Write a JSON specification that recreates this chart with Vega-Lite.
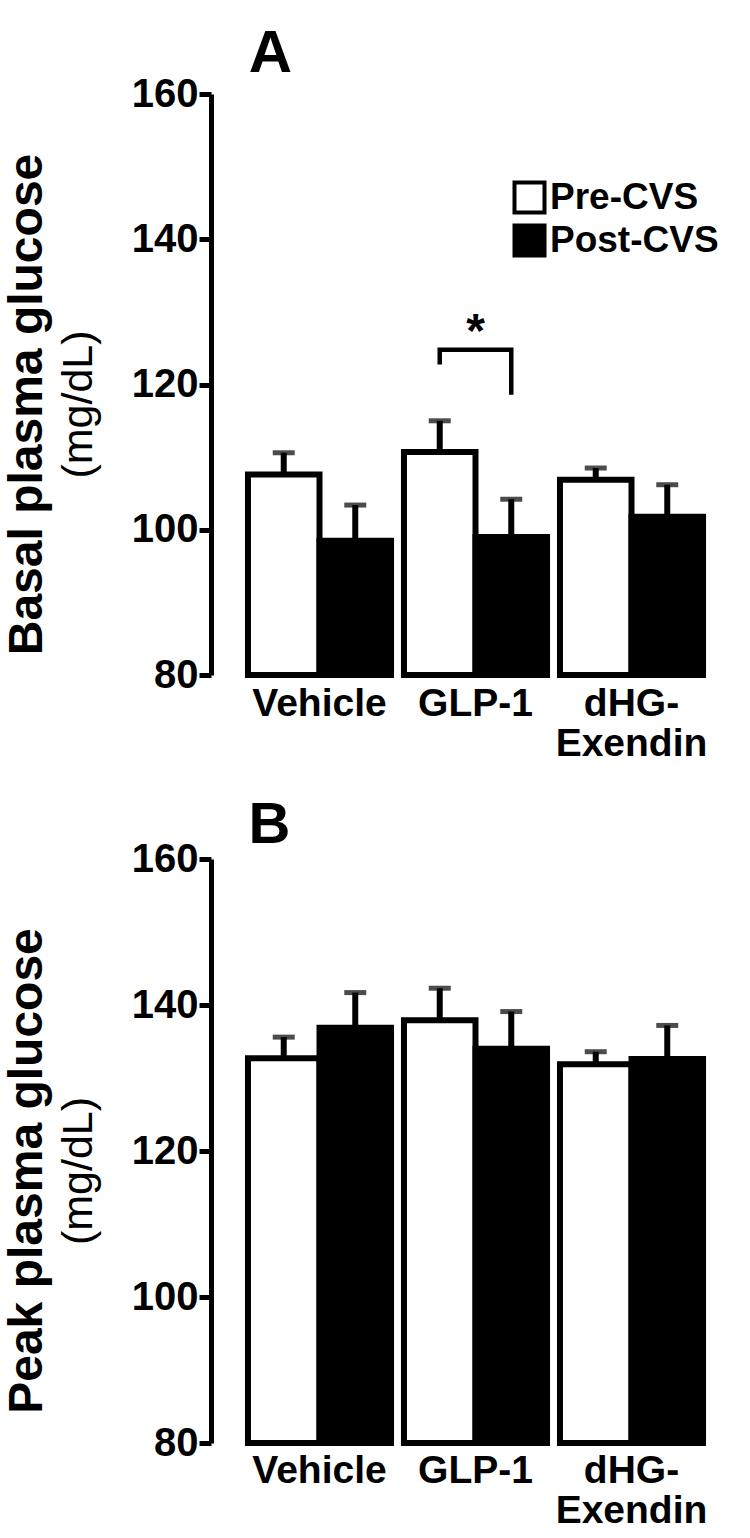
{
  "$schema": "https://vega.github.io/schema/vega-lite/v6.json",
  "background": "white",
  "padding": {"left": 4, "top": 23, "right": 0, "bottom": 0},
  "config": {
    "view": {"stroke": null},
    "font": "Liberation Sans",
    "axis": {"labelColor": "black", "titleColor": "black", "domainColor": "black", "tickColor": "black"}
  },
  "spacing": 33,
  "resolve": {"scale": {"fill": "independent", "y": "independent", "x": "independent"}, "legend": {"fill": "independent"}},
  "vconcat": [
    {
      "width": 529,
      "height": 581,
      "title": {"text": "Basal plasma glucose", "subtitle": "(mg/dL)", "orient": "left", "anchor": "middle", "frame": "group", "dx": -20, "font": "Liberation Sans", "fontSize": 48, "fontWeight": "bold", "color": "black", "subtitleFont": "Liberation Sans", "subtitleFontSize": 43, "subtitleColor": "black", "subtitleFontWeight": "normal", "subtitlePadding": 6, "offset": 30},
      "data": {"values": [
        {"group": "Vehicle", "phase": "Pre-CVS", "value": 107.6, "upper": 110.6},
        {"group": "Vehicle", "phase": "Post-CVS", "value": 98.5, "upper": 103.4},
        {"group": "GLP-1", "phase": "Pre-CVS", "value": 110.7, "upper": 115.0},
        {"group": "GLP-1", "phase": "Post-CVS", "value": 99.0, "upper": 104.2},
        {"group": "dHG-Exendin", "phase": "Pre-CVS", "value": 106.9, "upper": 108.5},
        {"group": "dHG-Exendin", "phase": "Post-CVS", "value": 101.8, "upper": 106.2}
      ]},
      "encoding": {
        "x": {"field": "group", "type": "nominal", "sort": ["Vehicle", "GLP-1", "dHG-Exendin"], "scale": {"paddingInner": 0.083, "paddingOuter": 0.237},
          "axis": {"title": null, "domain": false, "ticks": false, "labelFontSize": 39, "labelFontWeight": "bold", "labelFont": "Liberation Sans", "labelPadding": 9, "labelAngle": 0, "labelBaseline": "top", "labelLineHeight": 40, "labelExpr": "datum.value == 'dHG-Exendin' ? ['dHG-', 'Exendin'] : datum.value"}},
        "y": {"field": "value", "type": "quantitative", "title": "A", "scale": {"domain": [80, 160], "zero": false, "nice": false},
          "axis": {"values": [80, 100, 120, 140, 160], "grid": false, "domainWidth": 5, "tickWidth": 5, "tickSize": 12, "labelFontSize": 40, "labelFontWeight": "bold", "labelPadding": 1, "titleAngle": 0, "titleX": 59, "titleY": -23, "titleAlign": "center", "titleBaseline": "alphabetic", "titleFontSize": 60, "titleFontWeight": "bold", "titleFont": "Liberation Sans"}}
      },
      "layer": [
        {
          "mark": {"type": "bar", "stroke": "black", "strokeWidth": 6, "strokeJoin": "miter"},
          "encoding": {
            "xOffset": {"field": "phase", "type": "nominal", "sort": ["Pre-CVS", "Post-CVS"], "scale": {"paddingInner": 0, "paddingOuter": 0}},
            "y2": {"datum": 80},
            "fill": {"field": "phase", "type": "nominal", "scale": {"domain": ["Pre-CVS", "Post-CVS"], "range": ["white", "black"]},
              "legend": {"title": null, "orient": "none", "legendX": 300, "legendY": 85, "symbolType": "square", "symbolSize": 900, "symbolStrokeWidth": 4, "symbolStrokeColor": "black", "labelFont": "Liberation Sans", "labelFontSize": 37, "labelFontWeight": "bold", "labelColor": "black", "labelLimit": 400, "rowPadding": -4, "labelOffset": 2, "padding": 0}}
          }
        },
        {
          "mark": {"type": "rule", "strokeWidth": 6, "color": "black"},
          "encoding": {
            "xOffset": {"field": "phase", "type": "nominal", "sort": ["Pre-CVS", "Post-CVS"], "scale": {"paddingInner": 0, "paddingOuter": 0}},
            "y2": {"field": "upper"}
          }
        },
        {
          "mark": {"type": "tick", "thickness": 5, "size": 22, "color": "black"},
          "encoding": {
            "xOffset": {"field": "phase", "type": "nominal", "sort": ["Pre-CVS", "Post-CVS"], "scale": {"paddingInner": 0, "paddingOuter": 0}},
            "y": {"field": "upper", "type": "quantitative", "title": "A"}
          }
        },
        {
          "data": {"values": [
            {"group": "GLP-1", "phase": "Pre-CVS", "value": 122.75, "ord": 1},
            {"group": "GLP-1", "phase": "Pre-CVS", "value": 124.8, "ord": 2},
            {"group": "GLP-1", "phase": "Post-CVS", "value": 124.8, "ord": 3},
            {"group": "GLP-1", "phase": "Post-CVS", "value": 118.6, "ord": 4}
          ]},
          "mark": {"type": "line", "color": "black", "strokeWidth": 4.5, "strokeCap": "butt", "strokeJoin": "miter"},
          "encoding": {
            "xOffset": {"field": "phase", "type": "nominal", "sort": ["Pre-CVS", "Post-CVS"], "scale": {"paddingInner": 0, "paddingOuter": 0}},
            "order": {"field": "ord", "type": "quantitative"}
          }
        },
        {
          "data": {"values": [{"group": "GLP-1", "value": 125.2, "label": "*"}]},
          "mark": {"type": "text", "fontSize": 48, "fontWeight": "bold", "baseline": "alphabetic", "align": "center", "color": "black"},
          "encoding": {"text": {"field": "label"}}
        }
      ]
    },
    {
      "width": 529,
      "height": 584,
      "title": {"text": "Peak plasma glucose", "subtitle": "(mg/dL)", "orient": "left", "anchor": "middle", "frame": "group", "dx": -20, "font": "Liberation Sans", "fontSize": 48, "fontWeight": "bold", "color": "black", "subtitleFont": "Liberation Sans", "subtitleFontSize": 43, "subtitleColor": "black", "subtitleFontWeight": "normal", "subtitlePadding": 6, "offset": 30},
      "data": {"values": [
        {"group": "Vehicle", "phase": "Pre-CVS", "value": 132.7, "upper": 135.6},
        {"group": "Vehicle", "phase": "Post-CVS", "value": 136.9, "upper": 141.7},
        {"group": "GLP-1", "phase": "Pre-CVS", "value": 137.9, "upper": 142.3},
        {"group": "GLP-1", "phase": "Post-CVS", "value": 134.0, "upper": 139.1},
        {"group": "dHG-Exendin", "phase": "Pre-CVS", "value": 131.9, "upper": 133.6},
        {"group": "dHG-Exendin", "phase": "Post-CVS", "value": 132.6, "upper": 137.2}
      ]},
      "encoding": {
        "x": {"field": "group", "type": "nominal", "sort": ["Vehicle", "GLP-1", "dHG-Exendin"], "scale": {"paddingInner": 0.083, "paddingOuter": 0.237},
          "axis": {"title": null, "domain": false, "ticks": false, "labelFontSize": 39, "labelFontWeight": "bold", "labelFont": "Liberation Sans", "labelPadding": 8, "labelAngle": 0, "labelBaseline": "top", "labelLineHeight": 40, "labelExpr": "datum.value == 'dHG-Exendin' ? ['dHG-', 'Exendin'] : datum.value"}},
        "y": {"field": "value", "type": "quantitative", "title": "B", "scale": {"domain": [80, 160], "zero": false, "nice": false},
          "axis": {"values": [80, 100, 120, 140, 160], "grid": false, "domainWidth": 5, "tickWidth": 5, "tickSize": 12, "labelFontSize": 40, "labelFontWeight": "bold", "labelPadding": 1, "titleAngle": 0, "titleX": 58, "titleY": -17, "titleAlign": "center", "titleBaseline": "alphabetic", "titleFontSize": 58, "titleFontWeight": "bold", "titleFont": "Liberation Sans"}}
      },
      "layer": [
        {
          "mark": {"type": "bar", "stroke": "black", "strokeWidth": 6, "strokeJoin": "miter"},
          "encoding": {
            "xOffset": {"field": "phase", "type": "nominal", "sort": ["Pre-CVS", "Post-CVS"], "scale": {"paddingInner": 0, "paddingOuter": 0}},
            "y2": {"datum": 80},
            "fill": {"field": "phase", "type": "nominal", "scale": {"domain": ["Pre-CVS", "Post-CVS"], "range": ["white", "black"]}, "legend": null}
          }
        },
        {
          "mark": {"type": "rule", "strokeWidth": 6, "color": "black"},
          "encoding": {
            "xOffset": {"field": "phase", "type": "nominal", "sort": ["Pre-CVS", "Post-CVS"], "scale": {"paddingInner": 0, "paddingOuter": 0}},
            "y2": {"field": "upper"}
          }
        },
        {
          "mark": {"type": "tick", "thickness": 5, "size": 22, "color": "black"},
          "encoding": {
            "xOffset": {"field": "phase", "type": "nominal", "sort": ["Pre-CVS", "Post-CVS"], "scale": {"paddingInner": 0, "paddingOuter": 0}},
            "y": {"field": "upper", "type": "quantitative", "title": "B"}
          }
        }
      ]
    }
  ]
}
